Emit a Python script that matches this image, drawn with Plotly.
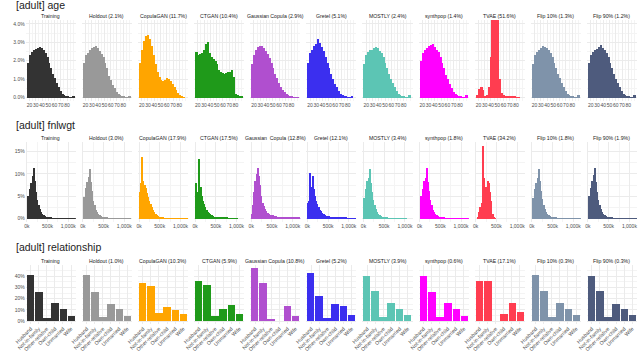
import plotly.graph_objects as go

W, H = 640, 352
FONT = "Liberation Sans, Arial, sans-serif"

# ── panel titles ────────────────────────────────────────────────────────────
AGE_TITLES = ["Training", "Holdout (2.1%)", "CopulaGAN (11.7%)", "CTGAN (10.4%)",
              "Gaussian Copula (2.9%)", "Gretel (5.1%)", "MOSTLY (2.4%)",
              "synthpop (1.4%)", "TVAE (51.6%)", "Flip 10% (1.3%)", "Flip 90% (1.2%)"]
FNL_TITLES = ["Training", "Holdout (3.0%)", "CopulaGAN (17.9%)", "CTGAN (17.5%)",
              "Gaussian  Copula (12.8%)", "Gretel (12.1%)", "MOSTLY (3.4%)",
              "synthpop (1.8%)", "TVAE (34.2%)", "Flip 10% (1.8%)", "Flip 90% (1.9%)"]
REL_TITLES = ["Training", "Holdout (1.0%)", "CopulaGAN (10.3%)", "CTGAN (5.9%)",
              "Gaussian Copula (10.8%)", "Gretel (5.2%)", "MOSTLY (3.9%)",
              "synthpop (0.6%)", "TVAE (17.1%)", "Flip 10% (0.3%)", "Flip 90% (0.3%)"]

COLORS = ["#333333", "#999999", "#FFA500", "#1F9A1A", "#B04FCF", "#3B2FEF",
          "#5CC5B4", "#FF00FF", "#FF3D50", "#7F93AA", "#4E5B7D"]

# ── age: share per year (%), 3-year bins ────────────────────────────────────
AGE_BIN_MID = [18.5, 21.5, 24.5, 27.5, 30.5, 33.5, 36.5, 39.5, 42.5, 45.5, 48.5, 51.5,
               54.5, 57.5, 60.5, 63.5, 66.5, 69.5, 72.5, 75.5, 78.5, 81.5, 84.5, 87.5, 90.5]
AGE_TRAINING = [1.9, 2.3, 2.5, 2.6, 2.65, 2.7, 2.75, 2.7, 2.6, 2.45, 2.2, 1.9, 1.6, 1.3,
                1.05, 0.8, 0.55, 0.35, 0.22, 0.14, 0.08, 0.05, 0.03, 0.02, 0.1]
AGE_HOLDOUT = [1.9, 2.3, 2.4, 2.6, 2.7, 2.75, 2.8, 2.7, 2.55, 2.35, 2.2, 1.9, 1.6, 1.2,
               0.95, 0.7, 0.5, 0.3, 0.2, 0.12, 0.06, 0.04, 0.03, 0.02, 0.1]
AGE_COPULAGAN = [1.9, 2.6, 3.1, 3.35, 3.4, 3.2, 2.8, 2.3, 1.8, 1.4, 1.1, 0.95, 0.9, 0.95,
                 1.05, 1.0, 0.9, 0.75, 0.55, 0.4, 0.25, 0.12, 0.05, 0.02, 0.0]
AGE_CTGAN = [2.5, 2.3, 2.35, 2.4, 2.6, 2.9, 3.0, 2.4, 2.2, 2.1, 2.0, 1.8, 1.5, 1.4,
             1.35, 1.3, 1.35, 1.4, 1.4, 1.5, 1.1, 0.2, 0.12, 0.08, 0.05]
AGE_GAUSSIAN = [1.8, 2.3, 2.6, 2.75, 2.8, 2.8, 2.7, 2.55, 2.35, 2.15, 1.9, 1.6, 1.3, 1.05,
                0.8, 0.6, 0.42, 0.3, 0.2, 0.13, 0.08, 0.05, 0.03, 0.02, 0.01]
AGE_GRETEL = [1.9, 2.4, 2.6, 2.8, 2.9, 3.2, 2.95, 2.75, 2.55, 2.2, 1.9, 1.6, 1.3, 1.0,
              0.75, 0.55, 0.35, 0.2, 0.12, 0.06, 0.04, 0.03, 0.02, 0.08, 0.0]
AGE_MOSTLY = [1.8, 2.3, 2.5, 2.6, 2.6, 2.7, 2.75, 2.7, 2.55, 2.4, 2.2, 1.9, 1.6, 1.3,
              1.0, 0.8, 0.55, 0.35, 0.22, 0.14, 0.08, 0.05, 0.03, 0.02, 0.15]
AGE_SYNTHPOP = [2.0, 2.4, 2.6, 2.7, 2.8, 2.85, 2.9, 2.75, 2.6, 2.5, 2.2, 1.9, 1.6, 1.25,
                1.0, 0.75, 0.5, 0.3, 0.2, 0.12, 0.06, 0.04, 0.03, 0.02, 0.15]
AGE_TVAE = [0.15, 0.45, 0.6, 0.4, 0.1, 0.12, 0.6, 2.2, 5.5, 7.0, 6.5, 4.8, 1.0, 0.25,
            0.12, 0.1, 0.09, 0.08, 0.07, 0.06, 0.05, 0.03, 0.02, 0.0, 0.0]
AGE_FLIP10 = [1.8, 2.3, 2.5, 2.6, 2.7, 2.8, 2.75, 2.7, 2.6, 2.45, 2.2, 1.9, 1.6, 1.3,
              1.05, 0.8, 0.55, 0.35, 0.22, 0.14, 0.08, 0.05, 0.03, 0.02, 0.12]
AGE_FLIP90 = [1.9, 2.3, 2.5, 2.6, 2.65, 2.75, 2.85, 2.7, 2.6, 2.4, 2.2, 1.9, 1.6, 1.3,
              1.0, 0.8, 0.55, 0.35, 0.22, 0.14, 0.08, 0.05, 0.03, 0.02, 0.12]

# ── fnlwgt: share per bin (%), 30k bins, x in thousands ─────────────────────
FNL_BIN_MID = [15, 45, 75, 105, 135, 165, 195, 225, 255, 285, 315, 345, 375, 405, 435,
               465, 495, 525, 555, 585, 615, 645, 675, 705, 735, 765, 795, 825, 855, 885,
               915, 945, 975, 1005, 1035, 1065, 1095, 1125, 1155, 1185]
FNL_TRAINING = [5.0, 3.8, 6.5, 8.0, 9.5, 11.2, 8.5, 6.0, 4.2, 3.0, 2.1, 1.5, 1.0, 0.7,
                0.5, 0.4, 0.3, 0.25, 0.2, 0.15, 0.12, 0.1, 0.08, 0.07, 0.06, 0.05, 0.04,
                0.04, 0.03, 0.03, 0.02, 0.02, 0.02, 0.02, 0.01, 0.01, 0.01, 0.01, 0.01, 0.0]
FNL_HOLDOUT = [4.8, 4.2, 6.8, 8.2, 9.3, 11.0, 8.2, 6.2, 4.0, 3.0, 2.0, 1.5, 1.0, 0.7,
               0.5, 0.4, 0.3, 0.25, 0.2, 0.15, 0.12, 0.1, 0.08, 0.07, 0.06, 0.05, 0.04,
               0.04, 0.03, 0.03, 0.02, 0.02, 0.02, 0.02, 0.01, 0.01, 0.01, 0.01, 0.0, 0.0]
FNL_COPULAGAN = [6.0, 8.0, 13.8, 8.5, 7.5, 6.8, 5.8, 4.8, 4.0, 3.2, 2.5, 1.9, 1.4, 1.0,
                 0.7, 0.5, 0.35, 0.25, 0.2, 0.15, 0.12, 0.1, 0.08, 0.06, 0.05, 0.04, 0.03,
                 0.03, 0.02, 0.02, 0.02, 0.01, 0.01, 0.01, 0.01, 0.01, 0.01, 0.01, 0.01, 0.01]
FNL_CTGAN = [8.0, 3.0, 6.0, 13.2, 7.0, 5.0, 4.0, 3.2, 2.5, 2.0, 1.5, 1.2, 1.0, 0.7,
             0.5, 0.4, 0.35, 0.3, 0.3, 0.25, 0.25, 0.2, 0.2, 0.2, 0.15, 0.15, 0.12,
             0.1, 0.08, 0.05, 0.03, 0.02, 0.01, 0.01, 0.0, 0.0, 0.0, 0.0, 0.0, 0.0]
FNL_GAUSSIAN = [1.0, 3.0, 6.0, 8.5, 10.0, 11.2, 9.5, 7.5, 5.0, 3.5, 2.8, 2.2, 1.6, 1.3,
                1.1, 0.9, 0.8, 0.7, 0.6, 0.55, 0.5, 0.45, 0.4, 0.38, 0.35, 0.32, 0.3,
                0.28, 0.26, 0.24, 0.22, 0.2, 0.2, 0.18, 0.17, 0.16, 0.15, 0.14, 0.13, 0.12]
FNL_GRETEL = [3.5, 4.0, 10.2, 7.0, 9.5, 6.5, 5.0, 4.0, 3.2, 2.5, 2.0, 1.6, 1.2, 1.0,
              0.8, 0.65, 0.55, 0.5, 0.45, 0.4, 0.35, 0.3, 0.3, 0.28, 0.25, 0.25, 0.3,
              0.35, 0.3, 0.25, 0.2, 0.15, 0.12, 0.1, 0.08, 0.05, 0.03, 0.02, 0.01, 0.0]
FNL_MOSTLY = [4.5, 4.5, 6.5, 8.5, 9.0, 11.0, 8.0, 6.0, 4.2, 3.0, 2.1, 1.5, 1.0, 0.7,
              0.5, 0.4, 0.3, 0.25, 0.2, 0.15, 0.12, 0.1, 0.08, 0.06, 0.05, 0.04, 0.03,
              0.03, 0.02, 0.02, 0.02, 0.01, 0.01, 0.01, 0.01, 0.0, 0.0, 0.0, 0.0, 0.0]
FNL_SYNTHPOP = [5.0, 4.5, 6.5, 8.5, 9.0, 11.3, 8.2, 6.2, 4.2, 3.0, 2.0, 1.4, 1.0, 0.7,
                0.5, 0.4, 0.3, 0.25, 0.2, 0.15, 0.12, 0.1, 0.08, 0.07, 0.06, 0.05, 0.04,
                0.04, 0.03, 0.03, 0.02, 0.02, 0.02, 0.02, 0.02, 0.02, 0.02, 0.02, 0.05, 0.05]
FNL_TVAE = [0.0, 0.3, 1.5, 2.5, 3.5, 16.3, 9.0, 6.0, 7.0, 8.5, 8.0, 6.0, 4.0, 1.0,
            0.3, 0.1, 0.0, 0.0, 0.0, 0.0, 0.0, 0.0, 0.0, 0.0, 0.0, 0.0, 0.0,
            0.0, 0.0, 0.0, 0.0, 0.0, 0.0, 0.0, 0.0, 0.0, 0.0, 0.0, 0.0, 0.0]
FNL_FLIP10 = [4.5, 4.2, 6.5, 8.0, 9.0, 11.0, 8.4, 6.1, 4.3, 3.0, 2.1, 1.5, 1.0, 0.7,
              0.5, 0.4, 0.3, 0.25, 0.2, 0.15, 0.12, 0.1, 0.08, 0.07, 0.06, 0.05, 0.04,
              0.04, 0.03, 0.03, 0.02, 0.02, 0.02, 0.02, 0.01, 0.01, 0.01, 0.01, 0.01, 0.0]
FNL_FLIP90 = [5.0, 4.0, 6.8, 8.3, 9.8, 11.3, 8.2, 6.0, 4.1, 3.0, 2.1, 1.5, 1.0, 0.7,
              0.5, 0.4, 0.3, 0.25, 0.2, 0.15, 0.12, 0.1, 0.08, 0.07, 0.06, 0.05, 0.04,
              0.04, 0.03, 0.03, 0.02, 0.02, 0.02, 0.02, 0.01, 0.01, 0.01, 0.01, 0.01, 0.0]

# ── relationship: share (%) ─────────────────────────────────────────────────
REL_CATS = ["Husband", "Not-in-family", "Other-relative", "Own-child", "Unmarried", "Wife"]
REL_TRAINING = [40.4, 25.5, 3.0, 15.6, 10.6, 4.8]
REL_HOLDOUT = [40.6, 25.7, 3.1, 15.4, 10.4, 4.8]
REL_COPULAGAN = [33.5, 30.9, 7.4, 12.4, 9.7, 5.9]
REL_CTGAN = [35.6, 31.5, 4.4, 10.3, 13.8, 6.2]
REL_GAUSSIAN = [47.3, 33.5, 2.1, 0.0, 12.9, 4.4]
REL_GRETEL = [42.4, 21.8, 2.6, 15.0, 13.5, 5.3]
REL_MOSTLY = [40.3, 26.8, 3.2, 16.2, 10.3, 5.0]
REL_SYNTHPOP = [40.0, 25.9, 3.1, 15.5, 10.7, 4.8]
REL_TVAE = [35.9, 35.3, 0.0, 5.9, 15.6, 8.2]
REL_FLIP10 = [40.6, 26.2, 3.2, 15.6, 10.9, 5.0]
REL_FLIP90 = [40.3, 26.8, 3.1, 15.0, 10.3, 5.0]

AGE_SERIES = [AGE_TRAINING, AGE_HOLDOUT, AGE_COPULAGAN, AGE_CTGAN, AGE_GAUSSIAN, AGE_GRETEL,
              AGE_MOSTLY, AGE_SYNTHPOP, AGE_TVAE, AGE_FLIP10, AGE_FLIP90]
FNL_SERIES = [FNL_TRAINING, FNL_HOLDOUT, FNL_COPULAGAN, FNL_CTGAN, FNL_GAUSSIAN, FNL_GRETEL,
              FNL_MOSTLY, FNL_SYNTHPOP, FNL_TVAE, FNL_FLIP10, FNL_FLIP90]
REL_SERIES = [REL_TRAINING, REL_HOLDOUT, REL_COPULAGAN, REL_CTGAN, REL_GAUSSIAN, REL_GRETEL,
              REL_MOSTLY, REL_SYNTHPOP, REL_TVAE, REL_FLIP10, REL_FLIP90]

# ── layout geometry (pixels) ────────────────────────────────────────────────
PANEL_LEFT, PANEL_STEP, PANEL_W = 15, 57.1, 51
GRID = "#EBEBEB"
MINOR = "#F4F4F4"
TICK_FONT = dict(family=FONT, size=5, color="#4D4D4D")


def fx(p):
    return p / W


def fy(p):
    return 1 - p / H


ROWS = [
    dict(name="[adult] age", title_y=5, strip_y=16, top=20.0, bottom=101.7,
         titles=AGE_TITLES, series=AGE_SERIES, x=AGE_BIN_MID, width=3,
         xrange=[14, 94], xticks=[20, 30, 40, 50, 60, 70, 80],
         xtext=["20", "30", "40", "50", "60", "70", "80"], xminor=5,
         yrange=[-0.2, 4.22], yticks=[0, 1, 2, 3, 4],
         ytext=["0.0%", "1.0%", "2.0%", "3.0%", "4.0%"], yminor=0.5),
    dict(name="[adult] fnlwgt", title_y=126, strip_y=139, top=142.9, bottom=223.6,
         titles=FNL_TITLES, series=FNL_SERIES, x=FNL_BIN_MID, width=30,
         xrange=[-25, 1185], xticks=[0, 500, 1000], xtext=["0k", "500k", "1,000k"],
         xminor=250, yrange=[-0.82, 17.1], yticks=[0, 5, 10, 15],
         ytext=["0%", "5%", "10%", "15%"], yminor=2.5),
    dict(name="[adult] relationship", title_y=248, strip_y=262, top=266.8, bottom=325.7,
         titles=REL_TITLES, series=REL_SERIES, x=REL_CATS, width=0.9,
         xrange=[-0.6, 5.6], xticks=None, xtext=None, xminor=None,
         yrange=[-2.37, 49.7], yticks=[0, 10, 20, 30, 40],
         ytext=["0%", "10%", "20%", "30%", "40%"], yminor=5),
]

fig = go.Figure()
layout = {}
annotations = []

for r, row in enumerate(ROWS):
    annotations.append(dict(text=row["name"], x=fx(3), y=fy(row["title_y"]),
                            xref="paper", yref="paper", xanchor="left", yanchor="middle",
                            showarrow=False, font=dict(family=FONT, size=10.5, color="#222")))
    for c in range(11):
        n = r * 11 + c + 1
        sfx = "" if n == 1 else str(n)
        x0 = PANEL_LEFT + c * PANEL_STEP
        x1 = x0 + PANEL_W

        fig.add_trace(go.Bar(
            x=row["x"], y=row["series"][c], width=row["width"],
            marker=dict(color=COLORS[c], line=dict(width=0)),
            xaxis="x" + sfx, yaxis="y" + sfx, showlegend=False, hoverinfo="skip",
        ))

        xa = dict(domain=[fx(x0), fx(x1)], anchor="y" + sfx, range=row["xrange"],
                  showgrid=True, gridcolor=GRID, gridwidth=1, zeroline=False,
                  showline=False, ticks="", tickfont=TICK_FONT, fixedrange=True)
        if row["xticks"] is not None:
            xa.update(tickmode="array", tickvals=row["xticks"], ticktext=row["xtext"],
                      tickangle=0,
                      minor=dict(dtick=row["xminor"], tick0=0, showgrid=True,
                                 gridcolor=MINOR, gridwidth=1))
        else:
            xa.update(type="category", categoryorder="array", categoryarray=REL_CATS,
                      tickangle=-45, tickfont=dict(family=FONT, size=5.2, color="#4D4D4D"))
        ya = dict(domain=[fy(row["bottom"]), fy(row["top"])], anchor="x" + sfx,
                  range=row["yrange"], tickmode="array", tickvals=row["yticks"],
                  ticktext=row["ytext"], showticklabels=(c == 0), showgrid=True,
                  gridcolor=GRID, gridwidth=1, zeroline=False, showline=False, ticks="",
                  tickfont=TICK_FONT, fixedrange=True,
                  minor=dict(dtick=row["yminor"], tick0=0, showgrid=True,
                             gridcolor=MINOR, gridwidth=1))
        layout["xaxis" + sfx] = xa
        layout["yaxis" + sfx] = ya

        annotations.append(dict(text=row["titles"][c], x=fx((x0 + x1) / 2),
                                y=fy(row["strip_y"]), xref="paper", yref="paper",
                                xanchor="center", yanchor="middle", showarrow=False,
                                font=dict(family=FONT, size=5.2, color="#1A1A1A")))

fig.update_layout(
    **layout,
    annotations=annotations,
    width=W, height=H,
    margin=dict(l=0, r=0, t=0, b=0),
    paper_bgcolor="white", plot_bgcolor="white",
    bargap=0, barmode="overlay",
    font=dict(family=FONT, size=6, color="#4D4D4D"),
)

# the page body has a default 8px margin; drop it so the figure fills the window
fig.write_html("out.html", config={"displayModeBar": False},
               post_script="document.body.style.margin='0';")
